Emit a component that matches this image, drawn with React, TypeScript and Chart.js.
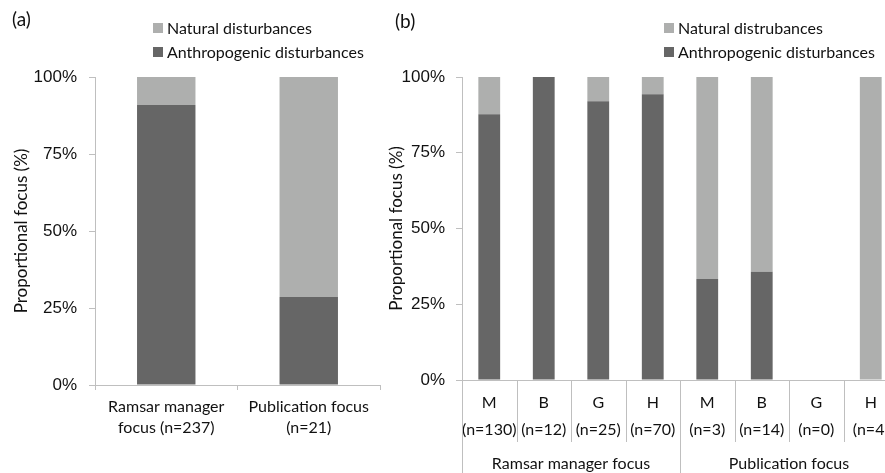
import React, { useEffect, useRef } from 'react';
import { Chart, registerables } from 'chart.js';
Chart.register(...registerables);

// ---------- data ----------
const seriesNames = ['Anthropogenic disturbances', 'Natural disturbances'];
const seriesNamesB = ['Anthropogenic disturbances', 'Natural distrubances'];

const categoriesA = [
  ['Ramsar manager', 'focus (n=237)'],
  ['Publication focus', '(n=21)'],
];
const anthroA = [90.9, 28.6];
const naturalA = [9.1, 71.4];

const categoriesB = [
  ['M', '(n=130)'],
  ['B', '(n=12)'],
  ['G', '(n=25)'],
  ['H', '(n=70)'],
  ['M', '(n=3)'],
  ['B', '(n=14)'],
  ['G', '(n=0)'],
  ['H', '(n=4)'],
];
const anthroB = [87.7, 100, 92, 94.3, 33.3, 35.7, 0, 0];
const naturalB = [12.3, 0, 8, 5.7, 66.7, 64.3, 0, 100];
const groupLabelsB = ['Ramsar manager focus', 'Publication focus'];
const groupStartB = [0, 4];
const groupEndB = [3, 7];

const yAxisTitle = 'Proportional focus (%)';

// ---------- styles ----------
const NATURAL = '#AEAFAE';
const ANTHRO = '#666666';
const AXIS = '#bfbfbf';
const TEXT = '#111111';

const legendPlugin = {
  id: 'customLegend',
  afterDraw(chart: any, _args: any, opts: any) {
    const ctx = chart.ctx;
    const items = [...chart.data.datasets].reverse();
    ctx.save();
    ctx.font = '16px Lato';
    ctx.textBaseline = 'middle';
    ctx.textAlign = 'left';
    items.forEach((ds: any, i: number) => {
      const y = opts.y + i * opts.gap;
      ctx.fillStyle = ds.backgroundColor;
      ctx.fillRect(opts.x, y - 5, 10, 10);
      ctx.fillStyle = TEXT;
      ctx.fillText(ds.label, opts.x + 14, y + 1);
    });
    ctx.font = '19px Lato';
    ctx.fillText(opts.tag, opts.tagX, opts.tagY);
    ctx.restore();
  },
};

const groupPlugin = {
  id: 'groupAxis',
  afterDraw(chart: any, _args: any, opts: any) {
    if (!opts || !opts.enabled) return;
    const xs = chart.scales.x;
    const ctx = chart.ctx;
    const base = chart.chartArea.bottom;
    const n = chart.data.labels.length;
    const edges = new Set<number>();
    groupStartB.forEach((s) => edges.add(s));
    groupEndB.forEach((e) => edges.add(e + 1));
    ctx.save();
    ctx.strokeStyle = AXIS;
    ctx.lineWidth = 1;
    for (let i = 0; i <= n; i++) {
      const x = Math.round(xs.getPixelForValue(i - 0.5)) + 0.5;
      const yEnd = edges.has(i) ? chart.height : base + opts.catLen;
      ctx.beginPath();
      ctx.moveTo(x, base);
      ctx.lineTo(x, yEnd);
      ctx.stroke();
    }
    ctx.fillStyle = TEXT;
    ctx.font = '16px Lato';
    ctx.textAlign = 'center';
    ctx.textBaseline = 'middle';
    groupLabelsB.forEach((lab, g) => {
      const c = (xs.getPixelForValue(groupStartB[g] - 0.5) + xs.getPixelForValue(groupEndB[g] + 0.5)) / 2;
      ctx.fillText(lab, c, base + opts.groupY);
    });
    ctx.restore();
  },
};

function makeConfig(p: {
  labels: any[];
  anthro: number[];
  natural: number[];
  names: string[];
  bar: number;
  yWidth: number;
  xHeight: number;
  right: number;
  titlePad: number;
  tickPad: number;
  xPad: number;
  xLine: number;
  xTicks: boolean;
  legend: any;
  group: any;
}): any {
  return {
    type: 'bar',
    data: {
      labels: p.labels,
      datasets: [
        {
          label: p.names[0],
          data: p.anthro,
          backgroundColor: ANTHRO,
          categoryPercentage: 1,
          barPercentage: p.bar,
        },
        {
          label: p.names[1],
          data: p.natural,
          backgroundColor: NATURAL,
          categoryPercentage: 1,
          barPercentage: p.bar,
        },
      ],
    },
    options: {
      animation: false,
      responsive: false,
      layout: { padding: { top: 77, right: p.right, left: 0, bottom: 0 } },
      plugins: {
        legend: { display: false },
        tooltip: { enabled: false },
        customLegend: p.legend,
        groupAxis: p.group,
      },
      scales: {
        x: {
          stacked: true,
          ticks: {
            autoSkip: false,
            maxRotation: 0,
            minRotation: 0,
            color: TEXT,
            padding: p.xPad,
            font: { family: 'Lato', size: 16, lineHeight: p.xLine },
          },
          grid: {
            drawOnChartArea: false,
            drawTicks: p.xTicks,
            display: true,
            tickLength: 5,
            color: AXIS,
            offset: true,
          },
          border: { color: AXIS, display: true },
          afterFit: (s: any) => {
            s.height = p.xHeight;
          },
        },
        y: {
          stacked: true,
          min: 0,
          max: 100,
          ticks: {
            stepSize: 25,
            callback: (v: any) => v + '%',
            color: TEXT,
            padding: p.tickPad,
            font: { family: 'Liberation Sans', size: 17 },
          },
          grid: { drawOnChartArea: false, drawTicks: true, tickLength: 6, color: AXIS },
          border: { color: AXIS },
          title: {
            display: true,
            text: yAxisTitle,
            color: TEXT,
            font: { family: 'Lato', size: 17 },
            padding: { top: p.titlePad, bottom: 0 },
          },
          afterFit: (s: any) => {
            s.width = p.yWidth;
          },
        },
      },
    },
    plugins: [legendPlugin, groupPlugin],
  };
}

export default function App() {
  const refA = useRef<HTMLCanvasElement>(null);
  const refB = useRef<HTMLCanvasElement>(null);

  useEffect(() => {
    const a = new Chart(
      refA.current as HTMLCanvasElement,
      makeConfig({
        labels: categoriesA,
        anthro: anthroA,
        natural: naturalA,
        names: seriesNames,
        bar: 0.41,
        yWidth: 95,
        xHeight: 88,
        right: 10,
        titlePad: 11.8,
        tickPad: 12,
        xPad: 6.5,
        xLine: 1.3125,
        xTicks: true,
        legend: { x: 153, y: 28, gap: 24, tag: '(a)', tagX: 12, tagY: 20 },
        group: { enabled: false },
      })
    );
    const b = new Chart(
      refB.current as HTMLCanvasElement,
      makeConfig({
        labels: categoriesB,
        anthro: anthroB,
        natural: naturalB,
        names: seriesNamesB,
        bar: 0.4,
        yWidth: 77,
        xHeight: 93,
        right: 2,
        titlePad: 1.8,
        tickPad: 11,
        xPad: 9.5,
        xLine: 1.6875,
        xTicks: false,
        legend: { x: 279, y: 28, gap: 24, tag: '(b)', tagX: 10, tagY: 22 },
        group: { enabled: true, catLen: 62, groupY: 84 },
      })
    );
    return () => {
      a.destroy();
      b.destroy();
    };
  }, []);

  return (
    <div
      style={{
        position: 'fixed',
        left: 0,
        top: 0,
        width: 885,
        height: 473,
        overflow: 'hidden',
        background: '#fff',
      }}
    >
      <canvas
        ref={refA}
        width={390}
        height={473}
        style={{ position: 'absolute', left: 0, top: 0, width: 390, height: 473 }}
      />
      <canvas
        ref={refB}
        width={515}
        height={473}
        style={{ position: 'absolute', left: 385, top: 0, width: 515, height: 473 }}
      />
    </div>
  );
}
